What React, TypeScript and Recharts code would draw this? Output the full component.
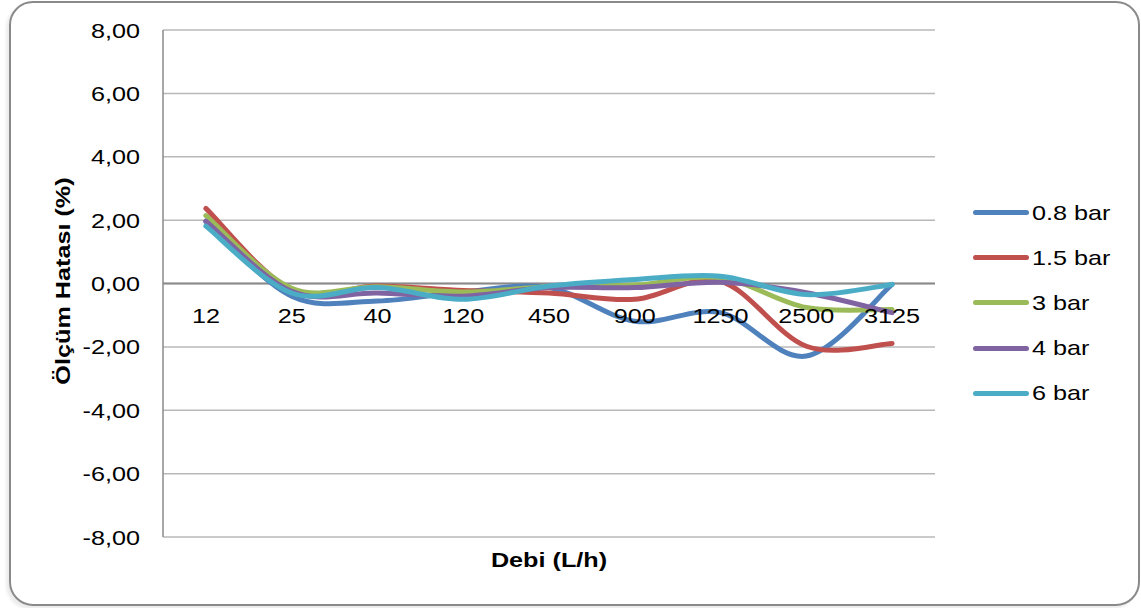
import React from 'react';
import {
  LineChart,
  Line,
  XAxis,
  YAxis,
  CartesianGrid,
  ReferenceLine,
} from 'recharts';

// Flow rates (L/h)
const categories = ['12', '25', '40', '120', '450', '900', '1250', '2500', '3125'];

// Measurement error (%) per pressure
const bar08 = [1.95, -0.4, -0.55, -0.27, -0.13, -1.19, -0.92, -2.29, -0.03];
const bar15 = [2.37, -0.2, -0.08, -0.22, -0.3, -0.5, 0.07, -1.98, -1.89];
const bar3 = [2.14, -0.15, -0.1, -0.27, -0.1, -0.05, 0.18, -0.76, -0.82];
const bar4 = [1.97, -0.25, -0.3, -0.4, -0.13, -0.13, 0.04, -0.29, -0.92];
const bar6 = [1.81, -0.3, -0.13, -0.5, -0.08, 0.13, 0.23, -0.35, -0.03];

const yTicks = [-8, -6, -4, -2, 0, 2, 4, 6, 8];

const series = [
  { key: 'b08', name: '0.8 bar', values: bar08, color: '#4F81BD' },
  { key: 'b15', name: '1.5 bar', values: bar15, color: '#C0504D' },
  { key: 'b3', name: '3 bar', values: bar3, color: '#9BBB59' },
  { key: 'b4', name: '4 bar', values: bar4, color: '#8064A2' },
  { key: 'b6', name: '6 bar', values: bar6, color: '#4BACC6' },
];

const data = categories.map((cat, i) => {
  const row: Record<string, string | number> = { cat };
  series.forEach((s) => {
    row[s.key] = s.values[i];
  });
  return row;
});

// chart geometry
const W = 1141;
const H = 608;
const PLOT_TOP = 30;
const PLOT_BOTTOM = 537;
const PLOT_LEFT = 163;
const PLOT_RIGHT = 935;
const Y_AXIS_W = 80;
const ZERO_Y = PLOT_TOP + ((PLOT_BOTTOM - PLOT_TOP) * 8) / 16;

const FONT = '"Liberation Sans", Arial, sans-serif';
const FS = 21;
const STRETCH = 1.2; // the original text is noticeably wide

// Excel-like smoothing (Catmull-Rom through the points)
const excelSmooth: any = (context: any) => {
  let pts: number[][] = [];
  return {
    areaStart() {},
    areaEnd() {},
    lineStart() {
      pts = [];
    },
    point(x: number, y: number) {
      pts.push([+x, +y]);
    },
    lineEnd() {
      if (!pts.length) return;
      context.moveTo(pts[0][0], pts[0][1]);
      for (let i = 0; i < pts.length - 1; i++) {
        const p0 = pts[i - 1] || pts[i];
        const p1 = pts[i];
        const p2 = pts[i + 1];
        const p3 = pts[i + 2] || p2;
        context.bezierCurveTo(
          p1[0] + (p2[0] - p0[0]) / 6,
          p1[1] + (p2[1] - p0[1]) / 6,
          p2[0] - (p3[0] - p1[0]) / 6,
          p2[1] - (p3[1] - p1[1]) / 6,
          p2[0],
          p2[1]
        );
      }
    },
  };
};

const formatY = (v: number) => v.toFixed(2).replace('.', ',');

const WideText = ({ x, y, anchor, children }: any) => (
  <g transform={`translate(${x} ${y}) scale(${STRETCH} 1)`}>
    <text x={0} y={0} textAnchor={anchor} fontSize={FS} fontFamily={FONT} fill="#000">
      {children}
    </text>
  </g>
);

// category labels sit just under the zero line
const CategoryTick = ({ x, payload }: any) => (
  <WideText x={x} y={ZERO_Y + 39} anchor="middle">
    {payload.value}
  </WideText>
);

const ValueTick = ({ x, y, payload }: any) => (
  <WideText x={x} y={y + 7.5} anchor="end">
    {formatY(payload.value)}
  </WideText>
);

const App: React.FC = () => {
  return (
    <div
      style={{
        position: 'fixed',
        left: 0,
        top: 0,
        width: W,
        height: H,
        background: '#fff',
        fontFamily: FONT,
      }}
    >
      {/* outer frame */}
      <div
        style={{
          position: 'absolute',
          left: 9,
          top: 1,
          width: 1127,
          height: 601,
          border: '2px solid #8a8a8a',
          borderRadius: 24,
          boxShadow: '-3px 3px 3px rgba(0,0,0,0.08)',
        }}
      />

      <div style={{ position: 'absolute', left: 0, top: 0 }}>
        <LineChart
          width={W}
          height={H}
          data={data}
          margin={{
            top: PLOT_TOP,
            bottom: H - PLOT_BOTTOM - 1,
            left: PLOT_LEFT - Y_AXIS_W,
            right: W - PLOT_RIGHT,
          }}
        >
          <CartesianGrid vertical={false} stroke="#b8b8b8" strokeWidth={1.5} />
          <XAxis
            dataKey="cat"
            scale="band"
            height={1}
            axisLine={false}
            tickLine={false}
            tick={<CategoryTick />}
            interval={0}
          />
          <YAxis
            width={Y_AXIS_W}
            domain={[-8, 8]}
            ticks={yTicks}
            interval={0}
            axisLine={{ stroke: '#8a8a8a', strokeWidth: 1.5 }}
            tickLine={false}
            tickSize={0}
            tickMargin={23}
            tick={<ValueTick />}
          />
          <ReferenceLine y={0} stroke="#8a8a8a" strokeWidth={2} />
          {series.map((s) => (
            <Line
              key={s.key}
              dataKey={s.key}
              name={s.name}
              type={excelSmooth}
              stroke={s.color}
              strokeWidth={5}
              strokeLinecap="round"
              dot={false}
              activeDot={false}
              isAnimationActive={false}
            />
          ))}
        </LineChart>
      </div>

      {/* axis titles */}
      <div
        style={{
          position: 'absolute',
          left: 63,
          top: 281,
          transform: `translate(-50%, -50%) rotate(-90deg) scaleX(${STRETCH})`,
          fontSize: FS,
          fontWeight: 'bold',
          whiteSpace: 'nowrap',
        }}
      >
        Ölçüm Hatası (%)
      </div>
      <div
        style={{
          position: 'absolute',
          left: 549,
          top: 560,
          transform: `translate(-50%, -50%) scaleX(${STRETCH})`,
          fontSize: FS,
          fontWeight: 'bold',
          whiteSpace: 'nowrap',
        }}
      >
        Debi (L/h)
      </div>

      {/* legend */}
      <div style={{ position: 'absolute', left: 973, top: 190 }}>
        {series.map((s) => (
          <div
            key={s.key}
            style={{ display: 'flex', alignItems: 'center', height: 45.2, fontSize: FS }}
          >
            <div
              style={{
                width: 56,
                height: 5,
                borderRadius: 3,
                background: s.color,
              }}
            />
            <span
              style={{
                marginLeft: 3,
                display: 'inline-block',
                transform: `scaleX(${STRETCH})`,
                transformOrigin: 'left center',
                whiteSpace: 'nowrap',
              }}
            >
              {s.name}
            </span>
          </div>
        ))}
      </div>
    </div>
  );
};

export default App;
